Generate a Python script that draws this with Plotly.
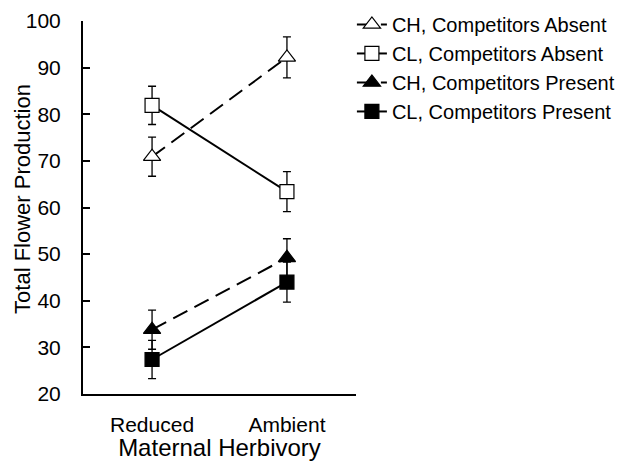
import plotly.graph_objects as go

categories = ["Reduced", "Ambient"]
x_pos = [0, 1]
series_names = ["CH, Competitors Absent", "CL, Competitors Absent",
                "CH, Competitors Present", "CL, Competitors Present"]
ch_absent = [70.9, 92.2]
ch_absent_err = [4.2, 4.4]
cl_absent = [81.9, 63.4]
cl_absent_err = [4.1, 4.3]
ch_present = [33.8, 49.2]
ch_present_err = [4.2, 4.1]
cl_present = [27.4, 44.0]
cl_present_err = [4.1, 4.3]
y_ticks = [20, 30, 40, 50, 60, 70, 80, 90, 100]
x_title = "Maternal Herbivory"
y_title = "Total Flower Production"

styles = [
    (ch_absent, ch_absent_err, "triangle-up", "white", "dash"),
    (cl_absent, cl_absent_err, "square", "white", "solid"),
    (ch_present, ch_present_err, "triangle-up", "black", "dash"),
    (cl_present, cl_present_err, "square", "black", "solid"),
]

fig = go.Figure()
for name, (vals, errs, sym, fill, dash) in zip(series_names, styles):
    fig.add_trace(go.Scatter(
        x=x_pos, y=vals, name=name, mode="lines+markers",
        line=dict(color="black", width=2, dash="solid" if dash == "solid" else "16px,8px"),
        marker=dict(symbol=sym, size=15 if "triangle" in sym else 14, color=fill,
                    line=dict(color="black", width=1.2)),
        error_y=dict(type="data", array=errs, visible=True, color="black",
                     thickness=1.3, width=4),
    ))

font = "Liberation Sans, Arial, sans-serif"
fig.update_layout(
    width=636, height=461,
    margin=dict(l=83, r=280, t=21, b=67, autoexpand=False),
    paper_bgcolor="white", plot_bgcolor="white",
    font=dict(family=font, color="black", size=21),
    showlegend=True,
    legend=dict(x=0.985, y=1.043, xanchor="left", yanchor="top",
                font=dict(size=20, color="black"), bgcolor="rgba(0,0,0,0)",
                tracegroupgap=0, itemwidth=30),
    xaxis=dict(range=[-0.512, 1.512], tickvals=x_pos, ticktext=categories,
               showline=True, linecolor="black", linewidth=2, ticks="",
               showgrid=False, zeroline=False, tickfont=dict(size=21),
               automargin=False, ticklabelstandoff=11,
               title=dict(text=x_title, font=dict(size=24))),
    yaxis=dict(range=[20, 100], tickvals=y_ticks, showline=True, linecolor="black",
               linewidth=2, ticks="inside", ticklen=7, tickwidth=2, tickcolor="black",
               showgrid=False, zeroline=False, tickfont=dict(size=21),
               automargin=False, ticklabelstandoff=16),
    annotations=[dict(text=y_title, textangle=-90, xref="paper", yref="paper",
                      x=-0.2198, y=0.523, xanchor="center", yanchor="middle",
                      showarrow=False, font=dict(size=22, color="black"))],
)

fig.write_html("out.html")
